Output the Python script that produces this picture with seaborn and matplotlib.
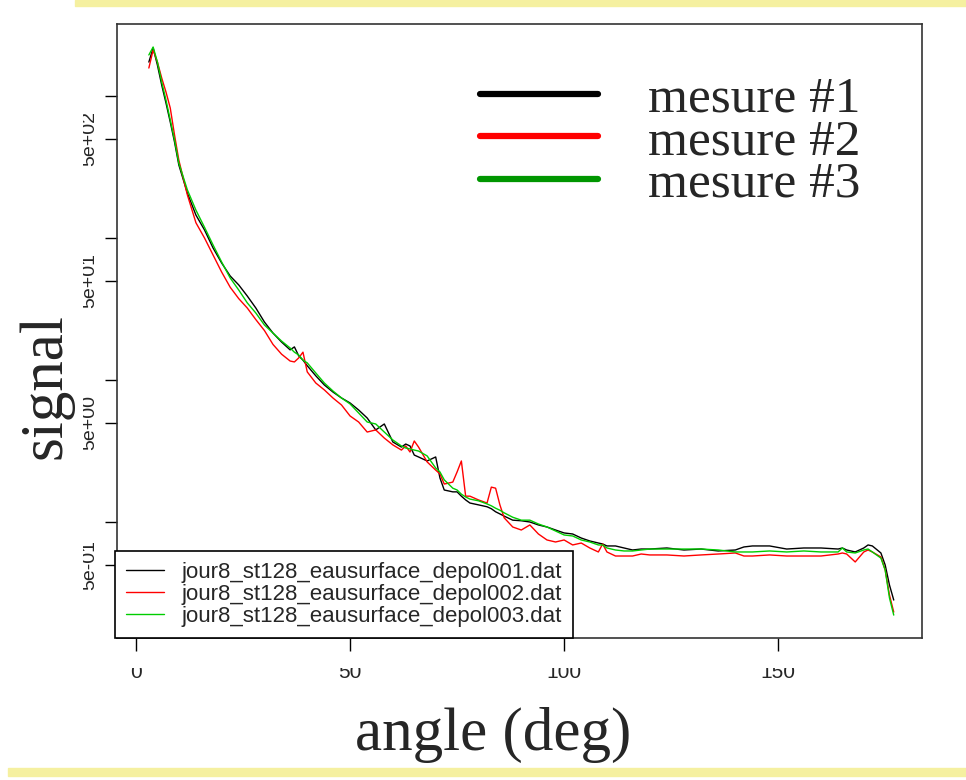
import numpy as np
import pandas as pd
import matplotlib
matplotlib.use('Agg')
import matplotlib.pyplot as plt
from matplotlib.lines import Line2D
from matplotlib.patches import Rectangle
from matplotlib.ticker import NullLocator, NullFormatter
from matplotlib.transforms import Bbox, TransformedBbox, blended_transform_factory
import seaborn as sns

# angles (deg) and signal
angle = [3, 4, 5, 6, 7, 8, 9, 10, 12, 14, 16, 18, 20, 22, 24, 26, 28, 30,
         32, 34, 36, 37, 38, 39, 40, 42, 44, 46, 48, 50, 52, 54, 56, 58, 60,
         62, 63, 64, 65, 66, 68, 70, 71, 72, 74, 75, 76, 77, 78, 80, 82, 83,
         84, 85, 86, 88, 90, 92, 94, 96, 98, 100, 102, 104, 106, 108, 109,
         110, 112, 114, 116, 118, 120, 124, 128, 132, 136, 140, 142, 144,
         148, 152, 156, 160, 164, 165, 166, 168, 170, 171, 172, 174, 175,
         176, 177]

mesure1 = [1734, 2178, 1652, 1195, 893, 656, 474, 327, 207, 145, 114, 85.1,
           66.7, 54.0, 46.7, 39.0, 32.1, 25.6, 21.4, 18.5, 16.3, 17.1, 14.8,
           13.8, 12.6, 10.7, 9.22, 8.23, 7.47, 6.89, 6.15, 5.40, 4.45, 4.90,
           3.66, 3.37, 3.54, 3.43, 2.96, 2.87, 2.69, 2.87, 2.04, 1.68, 1.63,
           1.63, 1.52, 1.43, 1.36, 1.32, 1.28, 1.24, 1.18, 1.14, 1.10, 1.03,
           1.02, 1.00, 0.953, 0.922, 0.878, 0.837, 0.823, 0.771, 0.735,
           0.711, 0.700, 0.678, 0.678, 0.656, 0.635, 0.645, 0.645, 0.656,
           0.635, 0.645, 0.625, 0.635, 0.667, 0.678, 0.678, 0.645, 0.656,
           0.656, 0.645, 0.656, 0.635, 0.615, 0.656, 0.689, 0.678, 0.605,
           0.498, 0.360, 0.282]

mesure2 = [1574, 2109, 1734, 1340, 1067, 823, 531, 354, 201, 128, 100, 75.9,
           57.6, 45.0, 37.4, 32.1, 26.6, 22.3, 17.8, 15.2, 13.6, 13.4, 14.3,
           15.7, 11.4, 9.52, 8.51, 7.47, 6.67, 5.58, 5.06, 4.30, 4.45, 3.90,
           3.49, 3.21, 3.43, 3.11, 3.72, 3.37, 2.65, 2.32, 2.18, 1.85, 1.91,
           2.25, 2.69, 1.52, 1.52, 1.43, 1.36, 1.76, 1.73, 1.32, 1.07, 0.922,
           0.878, 0.953, 0.823, 0.747, 0.723, 0.747, 0.689, 0.711, 0.656,
           0.615, 0.700, 0.615, 0.576, 0.576, 0.576, 0.595, 0.586, 0.586,
           0.576, 0.586, 0.595, 0.605, 0.576, 0.576, 0.586, 0.576, 0.576,
           0.576, 0.595, 0.605, 0.595, 0.523, 0.615, 0.635, 0.615, 0.567,
           0.459, 0.306, 0.232]

mesure3 = [1945, 2213, 1734, 1255, 937, 678, 490, 337, 218, 157, 119, 89.3,
           67.8, 52.3, 43.0, 34.9, 29.6, 24.4, 21.4, 18.8, 16.8, 15.7, 15.0,
           13.8, 13.2, 11.2, 9.52, 8.37, 7.47, 6.78, 5.86, 5.06, 4.90, 4.30,
           3.78, 3.43, 3.32, 3.27, 3.21, 3.16, 2.92, 2.40, 2.25, 1.98, 1.73,
           1.68, 1.57, 1.50, 1.45, 1.41, 1.34, 1.30, 1.25, 1.21, 1.16, 1.08,
           1.03, 1.03, 0.968, 0.922, 0.864, 0.810, 0.797, 0.747, 0.723,
           0.689, 0.689, 0.656, 0.635, 0.625, 0.625, 0.635, 0.645, 0.645,
           0.645, 0.645, 0.635, 0.615, 0.615, 0.615, 0.625, 0.615, 0.625,
           0.615, 0.615, 0.656, 0.615, 0.605, 0.635, 0.645, 0.615, 0.557,
           0.459, 0.292, 0.221]

files = ['jour8_st128_eausurface_depol001.dat',
         'jour8_st128_eausurface_depol002.dat',
         'jour8_st128_eausurface_depol003.dat']
mesure_labels = ['mesure #1', 'mesure #2', 'mesure #3']
line_colors = ['black', '#ff0000', '#00cd00']
mesure_colors = ['black', '#ff0000', '#009600']

xticks = [0, 50, 100, 150]
ytick_major = [0.5, 5, 50, 500]
ytick_labels = ['5e-01', '5e+00', '5e+01', '5e+02']
ytick_minor = [1, 10, 100, 1000]

df = pd.DataFrame({
    'angle': angle * 3,
    'signal': mesure1 + mesure2 + mesure3,
    'file': [f for f in files for _ in angle],
})

sns.set_style('white')
plt.rcParams['font.family'] = ['Liberation Sans', 'DejaVu Sans']

W, H = 966, 780
fig = plt.figure(figsize=(W / 100, H / 100), dpi=100)
ax = fig.add_axes([117 / W, 1 - 638 / H, 805 / W, 614 / H])

sns.lineplot(data=df, x='angle', y='signal', hue='file', palette=line_colors,
             linewidth=1.0, legend=False, ax=ax, estimator=None, sort=False)

ax.set_yscale('log')
ax.set_xlim(-4.44, 183.6)
ax.set_ylim(0.1524, 3214)
ax.set_xlabel('')
ax.set_ylabel('')

ax.set_xticks(xticks)
ax.set_xticklabels([''] * len(xticks))
ax.set_yticks(ytick_minor + ytick_major)
ax.yaxis.set_minor_locator(NullLocator())
ax.yaxis.set_major_formatter(NullFormatter())
ax.tick_params(axis='both', direction='out', length=9, width=1.0,
               color='black', left=True, bottom=True)
for sp in ax.spines.values():
    sp.set_color('#333333')
    sp.set_linewidth(1.2)

# tick labels, cut off like in the original screenshot
ytrans = blended_transform_factory(fig.transFigure, ax.transData)
yclip = TransformedBbox(Bbox([[83 / W, 0], [117 / W, 1]]), fig.transFigure)
for v, lab in zip(ytick_major, ytick_labels):
    t = ax.text(98 / W, v, lab, transform=ytrans, rotation=90, ha='right',
                va='center', fontsize=14, clip_on=True)
    t.set_clip_box(yclip)

xtrans = blended_transform_factory(ax.transData, fig.transFigure)
xclip = TransformedBbox(Bbox([[0, 0], [1, 1 - 668 / H]]), fig.transFigure)
for v in xticks:
    t = ax.text(v, 1 - 678 / H, str(v), transform=xtrans, ha='center',
                va='baseline', fontsize=15, clip_on=True)
    t.set_clip_box(xclip)

serif = ['Liberation Serif', 'DejaVu Serif']
fig.text(46 / W, 1 - 386 / H, 'signal', rotation=90, ha='center',
         va='center', fontsize=44, family=serif)
fig.text(493 / W, 1 - 735 / H, 'angle (deg)', ha='center', va='center',
         fontsize=44, family=serif)

# big legend, top right
big_handles = [Line2D([], [], color=c, lw=4.5) for c in mesure_colors]
leg1 = ax.legend(big_handles, mesure_labels, loc='upper left',
                 bbox_to_anchor=(480 / W, 1 - 76 / H),
                 bbox_transform=fig.transFigure, frameon=False,
                 prop={'family': serif, 'size': 37}, handlelength=2.3,
                 handletextpad=0.97, labelspacing=-0.09, borderpad=0,
                 borderaxespad=0)
ax.add_artist(leg1)

# file legend, bottom left
small_handles = [Line2D([], [], color=c, lw=1.0) for c in line_colors]
leg2 = ax.legend(small_handles, files, loc='lower left',
                 bbox_to_anchor=(115 / W, 1 - 638 / H),
                 bbox_transform=fig.transFigure, frameon=True, fancybox=False,
                 edgecolor='black', framealpha=1, fontsize=16,
                 handlelength=1.7, handletextpad=0.8, labelspacing=0.05,
                 borderpad=0.5, borderaxespad=0)
leg2.get_frame().set_linewidth(1.2)

# yellowish slide bars
fig.patches.append(Rectangle((75 / W, 1 - 6 / H), 1, 6 / H,
                             transform=fig.transFigure, color='#f5f0a0',
                             zorder=0))
fig.patches.append(Rectangle((8 / W, 1 - 776 / H), 1, 8 / H,
                             transform=fig.transFigure, color='#f5f0a0',
                             zorder=0))

fig.savefig('out.png', dpi=100)
